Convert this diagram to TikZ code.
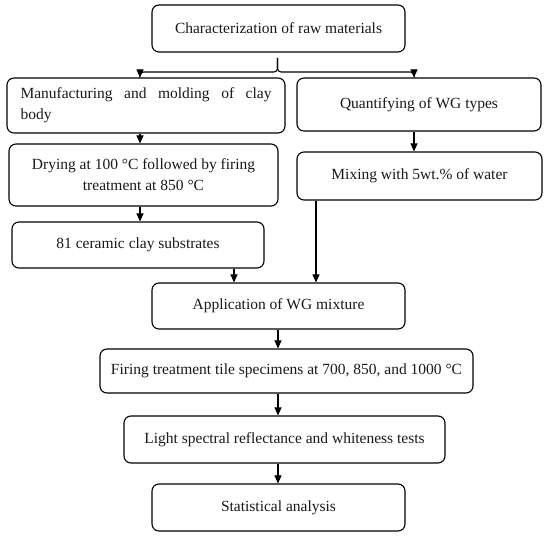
\documentclass[tikz,border=0pt]{standalone}
\usepackage{fontspec}
\setmainfont{Liberation Serif}
\usetikzlibrary{arrows.meta,calc}
\tikzset{
  box/.style={draw=black, line width=1.1pt, rounded corners=7pt, inner sep=0pt, align=center, font=\fontsize{15.5}{21}\selectfont, text=black!90},
  arr/.style={line width=1.1pt, -{Triangle[length=8pt,width=7pt]}},
}
\begin{document}
\begin{tikzpicture}[x=1pt,y=-1pt]
\useasboundingbox (0,0) rectangle (550,537);
\node[box, minimum width=253, minimum height=47] (b1) at (278.5,28.5) {Characterization of raw materials};
\node[box, minimum width=278, minimum height=55, text width=251pt, align=justify] (b2) at (146,105.5) {Manufacturing and molding of clay\linebreak body};
\node[box, minimum width=244, minimum height=53] (b3) at (419,104.5) {Quantifying of WG types};
\node[box, minimum width=269, minimum height=62] (b4) at (143.5,175) {Drying at 100 °C followed by firing\\treatment at 850 °C};
\node[box, minimum width=245, minimum height=48] (b5) at (419.5,176) {Mixing with 5wt.\% of water};
\node[box, minimum width=252, minimum height=46] (b6) at (138,245) {81 ceramic clay substrates};
\node[box, minimum width=253, minimum height=46] (b7) at (278.5,306) {Application of WG mixture};
\node[box, minimum width=373, minimum height=44] (b8) at (286.5,371) {Firing treatment tile specimens at 700, 850, and 1000 °C};
\node[box, minimum width=321, minimum height=47] (b9) at (284.5,439.5) {Light spectral reflectance and whiteness tests};
\node[box, minimum width=253, minimum height=47] (b10) at (278.5,507.5) {Statistical analysis};
\coordinate (xl) at (140,0);
\coordinate (xr) at (414,0);
\coordinate (xa) at (234,0);
\coordinate (xb) at (316,0);
\coordinate (xm) at (278,0);
\coordinate (bt) at (277.5,58);
\draw[arr, rounded corners=3.5pt] (bt) -- ++(0,14) -| (b2.north -| xl);
\draw[arr, rounded corners=3.5pt] (bt) -- ++(0,14) -| (b3.north -| xr);
\draw[arr] (b2.south -| xl) -- (b4.north -| xl);
\draw[arr] (b4.south -| xl) -- (b6.north -| xl);
\draw[arr] (b3.south -| xr) -- (b5.north -| xr);
\draw[arr] (b6.south -| xa) -- (b7.north -| xa);
\draw[arr] (b5.south -| xb) -- (b7.north -| xb);
\draw[arr] (b7.south -| xm) -- (b8.north -| xm);
\draw[arr] (b8.south -| xm) -- (b9.north -| xm);
\draw[arr] (b9.south -| xm) -- (b10.north -| xm);
\end{tikzpicture}
\end{document}
